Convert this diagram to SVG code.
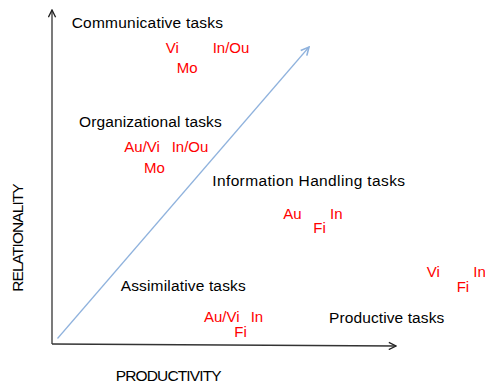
<svg xmlns="http://www.w3.org/2000/svg" width="485" height="384" viewBox="0 0 485 384">
<style>
text{font-family:"Liberation Sans",Arial,sans-serif;font-size:15.5px}
.t{fill:#000}
.c{fill:#ff0000;font-size:15px}
.ax{stroke:#333;stroke-width:1.3;fill:none}
.bl{stroke:#8fb2dd;stroke-width:1.2;fill:none}
</style>
<defs>
<marker id="ah" viewBox="0 0 10 10" refX="9" refY="5" markerWidth="9" markerHeight="9" markerUnits="userSpaceOnUse" orient="auto">
<path d="M1,1 L9,5 L1,9" fill="none" stroke="#222" stroke-width="1.5"/>
</marker>
<marker id="bh" viewBox="0 0 10 10" refX="9" refY="5" markerWidth="10" markerHeight="10" markerUnits="userSpaceOnUse" orient="auto">
<path d="M1,1 L9,5 L1,9" fill="none" stroke="#8fb2dd" stroke-width="1.6"/>
</marker>
</defs>
<rect width="485" height="384" fill="#fff"/>
<g id="connectors">
<line class="ax" x1="52" y1="344" x2="52" y2="10" marker-end="url(#ah)"/>
<line class="ax" x1="52" y1="344" x2="396" y2="346" marker-end="url(#ah)"/>
<line class="bl" x1="57.5" y1="338.5" x2="309" y2="47" marker-end="url(#bh)"/>
</g>
<g id="axis-labels">
<text class="t" x="115.7" y="381" textLength="106">PRODUCTIVITY</text>
<text class="t" transform="translate(23.3,291.7) rotate(-90)" x="0" y="0" textLength="108.4">RELATIONALITY</text>
</g>
<g id="communicative">
<text class="t" x="71.7" y="27.7" textLength="151.3">Communicative tasks</text>
<text class="c" x="165.7" y="53.3">Vi</text>
<text class="c" x="212.7" y="53.3">In/Ou</text>
<text class="c" x="176.7" y="72.7">Mo</text>
</g>
<g id="organizational">
<text class="t" x="79" y="126.7" textLength="142.7">Organizational tasks</text>
<text class="c" x="124.3" y="151.7">Au/Vi</text>
<text class="c" x="171.7" y="151.7">In/Ou</text>
<text class="c" x="144" y="173.3">Mo</text>
</g>
<g id="information-handling">
<text class="t" x="212.3" y="186" textLength="192.7">Information Handling tasks</text>
<text class="c" x="283.3" y="219.3">Au</text>
<text class="c" x="313.3" y="233.3">Fi</text>
<text class="c" x="330" y="219.3">In</text>
</g>
<g id="assimilative">
<text class="t" x="120.7" y="291" textLength="125">Assimilative tasks</text>
<text class="c" x="204" y="322.3">Au/Vi</text>
<text class="c" x="250.7" y="322.3">In</text>
<text class="c" x="234.3" y="336.5">Fi</text>
</g>
<g id="productive">
<text class="t" x="329" y="323.3" textLength="115.3">Productive tasks</text>
<text class="c" x="426.7" y="276.7">Vi</text>
<text class="c" x="456.7" y="291.7">Fi</text>
<text class="c" x="473.3" y="276.7">In</text>
</g>
</svg>
